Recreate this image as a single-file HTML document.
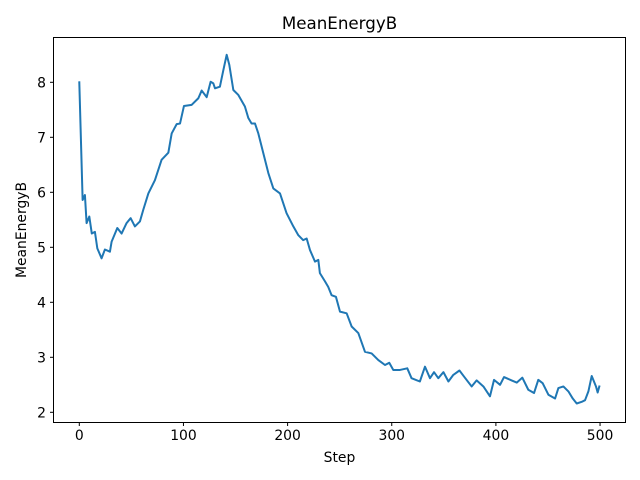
<!DOCTYPE html>
<html><head><meta charset="utf-8"><style>
html,body{margin:0;padding:0;background:#fff;}
svg{display:block;font-family:"DejaVu Sans","Liberation Sans",sans-serif;}
</style></head><body>
<svg id="chart" width="640" height="480" viewBox="0 0 640 480">
<rect x="0" y="0" width="640" height="480" fill="#fff"/>
<text x="339.5" y="29" font-size="16.7" text-anchor="middle" fill="#000">MeanEnergyB</text>
<g id="xticks"></g>
<g id="yticks"></g>
<path id="line" fill="none" stroke="#1f77b4" stroke-width="2" stroke-linejoin="round" stroke-linecap="square"/>
<rect x="53.5" y="37.5" width="572" height="385" fill="none" stroke="#000" stroke-width="1"/>
<text x="339.5" y="462" font-size="13.9" text-anchor="middle">Step</text>
<text transform="translate(26,230) rotate(-90)" font-size="13.9" text-anchor="middle">MeanEnergyB</text>
</svg>
<script>
const steps = [0,3.2,5.4,7,9.6,12,15,17.3,21.4,24.6,29.4,31,36.5,40.6,45.4,49.3,53.4,58.2,61.4,66.3,72.6,79,85.5,88.7,93.5,96.7,100.5,107.9,114.3,117.5,122.3,126.1,128.7,130.3,135,138.3,141.5,144,147.9,152.7,159,162.3,165.4,168.7,171.9,176.7,181.5,186.3,192.7,199,205.5,210.3,215,218.3,221.5,226.3,229.5,231,235.9,239,242.2,246.4,250.3,256.7,261.5,267.9,274.3,280.7,287.1,293.5,297.6,301.5,307.9,314.9,319,327,331.9,336.7,340.6,344.7,349.6,354.4,359.1,365,369.4,376.7,381.5,388,394.3,398.2,404,407.8,415.1,420,425.4,431.1,436.6,440.7,444.9,450.4,456.8,460,464.8,469.6,473.8,477.6,482.4,485.6,488.8,492,496.1,497.7,499.3];
const energy = [8.0,5.86,5.95,5.44,5.56,5.25,5.28,4.98,4.8,4.96,4.92,5.1,5.35,5.25,5.44,5.53,5.38,5.47,5.68,5.98,6.22,6.59,6.72,7.07,7.24,7.25,7.57,7.59,7.71,7.85,7.73,8.01,7.98,7.89,7.92,8.22,8.5,8.32,7.86,7.77,7.56,7.35,7.25,7.25,7.07,6.71,6.35,6.07,5.98,5.62,5.38,5.22,5.13,5.16,4.95,4.74,4.77,4.53,4.38,4.28,4.13,4.1,3.83,3.8,3.56,3.44,3.1,3.07,2.95,2.86,2.9,2.77,2.77,2.8,2.62,2.56,2.83,2.62,2.73,2.62,2.73,2.56,2.68,2.76,2.65,2.47,2.58,2.47,2.29,2.59,2.5,2.64,2.58,2.54,2.63,2.41,2.35,2.59,2.53,2.32,2.25,2.44,2.47,2.38,2.25,2.16,2.19,2.22,2.38,2.66,2.47,2.36,2.47];
const xTickValues = [0,100,200,300,400,500];
const yTickValues = [2,3,4,5,6,7,8];

const NS = "http://www.w3.org/2000/svg";
function xScale(v){ return 79.3 + v * 1.0415; }
function yScale(v){ return 412.3 - (v - 2) * 55; }

const d = steps.map((s,i)=>(i?"L":"M")+xScale(s).toFixed(2)+","+yScale(energy[i]).toFixed(2)).join(" ");
document.getElementById('line').setAttribute('d', d);

const xg = document.getElementById('xticks');
xTickValues.forEach(v=>{
  const x = xScale(v);
  const t = document.createElementNS(NS,'line');
  t.setAttribute('x1',x); t.setAttribute('x2',x); t.setAttribute('y1',422.5); t.setAttribute('y2',426); t.setAttribute('stroke','#000');
  
  
  xg.appendChild(t);
  const l = document.createElementNS(NS,'text');
  l.setAttribute('x',x); l.setAttribute('y',440); l.setAttribute('font-size','13.9'); l.setAttribute('text-anchor','middle');
  l.textContent = v;
  
  
  xg.appendChild(l);
});
const yg = document.getElementById('yticks');
yTickValues.forEach(v=>{
  const y = yScale(v);
  const t = document.createElementNS(NS,'line');
  t.setAttribute('x1',50); t.setAttribute('x2',53.5); t.setAttribute('y1',y); t.setAttribute('y2',y); t.setAttribute('stroke','#000');
  
  
  yg.appendChild(t);
  const l = document.createElementNS(NS,'text');
  l.setAttribute('x',46); l.setAttribute('y',y+5); l.setAttribute('font-size','13.9'); l.setAttribute('text-anchor','end');
  l.textContent = v;
  
  
  yg.appendChild(l);
});
</script>
</body></html>
